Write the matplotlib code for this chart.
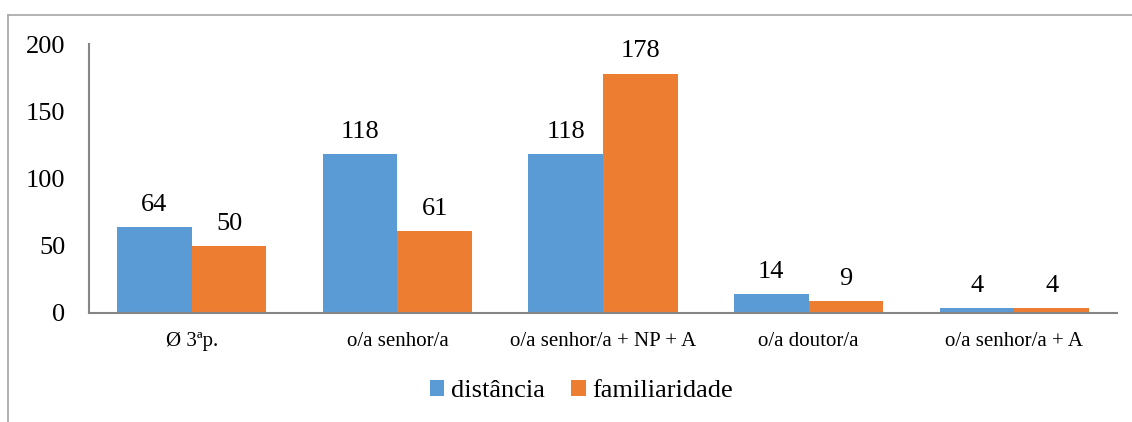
import numpy as np
import matplotlib
matplotlib.use("Agg")
import matplotlib.pyplot as plt
from matplotlib.lines import Line2D

# ---------- Data ----------
categories = ["Ø 3ªp.", "o/a senhor/a", "o/a senhor/a + NP + A", "o/a doutor/a", "o/a senhor/a + A"]
distancia = [64, 118, 118, 14, 4]
familiaridade = [50, 61, 178, 9, 4]
series_names = ["distância", "familiaridade"]
yticks = [0, 50, 100, 150, 200]

plt.rcParams['font.family'] = ['Liberation Serif', 'DejaVu Serif']

fig = plt.figure(figsize=(11.32, 4.22), dpi=100)
ax = fig.add_axes([0.0786, 0.2583, 0.9082, 0.6374])

x = np.arange(len(categories))
w = 0.363
b1 = ax.bar(x - w / 2, distancia, w, color='#5B9BD5', label=series_names[0])
b2 = ax.bar(x + w / 2, familiaridade, w, color='#ED7D31', label=series_names[1])

# value labels on top of bars
for bars in (b1, b2):
    for r in bars:
        ax.annotate(str(int(r.get_height())),
                    (r.get_x() + r.get_width() / 2, r.get_height()),
                    xytext=(0, 8), textcoords='offset points',
                    ha='center', va='bottom', fontsize=19)

ax.set_xlim(-0.5, len(categories) - 0.5)
ax.set_ylim(0, 200)
ax.set_yticks(yticks)
ax.set_xticks(x)
ax.set_xticklabels(categories, fontsize=15)
ax.tick_params(axis='y', length=0, pad=17, labelsize=19)
ax.tick_params(axis='x', length=0, pad=14)

for s in ('top', 'right'):
    ax.spines[s].set_visible(False)
for s in ('left', 'bottom'):
    ax.spines[s].set_color('#868686')
    ax.spines[s].set_linewidth(1.5)

ax.legend(loc='center', bbox_to_anchor=(0.479, -0.29), ncol=2, frameon=False,
          fontsize=19, handlelength=0.55, handleheight=0.55, handletextpad=0.25,
          columnspacing=1.0)

# outer border (top and left only visible in the crop)
fig.add_artist(Line2D([0.0071, 1.0], [0.9645, 0.9645], color='#A6A6A6', lw=1.2,
                      transform=fig.transFigure))
fig.add_artist(Line2D([0.0071, 0.0071], [0.0, 0.9645], color='#A6A6A6', lw=1.2,
                      transform=fig.transFigure))

plt.savefig("out.png", dpi=100)
